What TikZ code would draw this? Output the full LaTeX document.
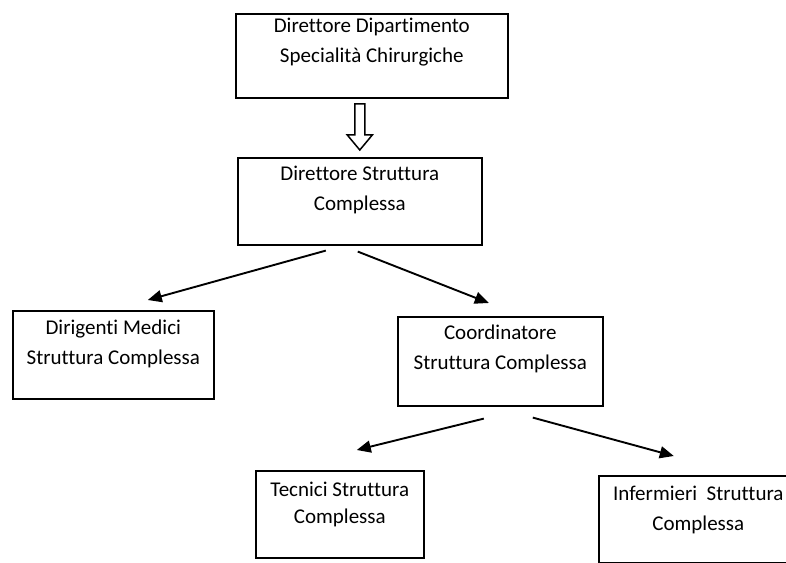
\documentclass[tikz,border=0pt]{standalone}
\usepackage{fontspec}
\setmainfont[Ligatures=NoCommon]{Carlito}
\usetikzlibrary{arrows.meta}
\newcommand{\bxt}[4]{\parbox[c][#2][t]{#1}{\centering\fontsize{21bp}{30bp}\selectfont\rule{0pt}{#3}#4\par}}
\begin{document}
\begin{tikzpicture}[x=1bp,y=-1bp,
  box/.style={draw=black, line width=1.6bp, inner sep=0pt, anchor=north west},
  arr/.style={line width=1.9bp, -{Triangle[length=14bp,width=12bp]}},
  hollow/.style={draw=black, line width=1.5bp, fill=white, line join=miter}
]
\clip (0,0) rectangle (786,563);
\node[box] (b1) at (235,13) {\bxt{272bp}{84bp}{19bp}{Direttore Dipartimento\\Specialità Chirurgiche}};
\node[box] (b2) at (237,157) {\bxt{244bp}{87bp}{23bp}{Direttore Struttura\\Complessa}};
\node[box] (b3) at (12,310) {\bxt{201bp}{88bp}{24bp}{Dirigenti Medici\\Struttura Complessa}};
\node[box] (b4) at (397,316) {\bxt{205bp}{89bp}{23bp}{Coordinatore\\Struttura Complessa}};
\node[box] (b5) at (255,470) {\bxt{168bp}{87bp}{26bp}{Tecnici Struttura\\[-3bp]Complessa}};
\node[box] (b6) at (598,475) {\bxt{199bp}{87bp}{25bp}{Infermieri~ Struttura\\Complessa}};
\begin{scope}[shift={(b2.north)}]
\draw[hollow] (-5,-53) -- (-5,-22) -- (-12.5,-22) -- (0,-7) -- (12.5,-22) -- (5,-22) -- (5,-53) -- cycle;
\end{scope}
\draw[arr] ([shift={(-34,5)}]b2.south) -- ([shift={(34.5,-10)}]b3.north);
\draw[arr] ([shift={(-2,6)}]b2.south) -- ([shift={(-11.5,-13)}]b4.north);
\draw[arr] ([shift={(-16.5,12)}]b4.south) -- ([shift={(17,-20)}]b5.north);
\draw[arr] ([shift={(32.5,11)}]b4.south) -- ([shift={(-24.5,-19)}]b6.north);
\end{tikzpicture}
\end{document}
